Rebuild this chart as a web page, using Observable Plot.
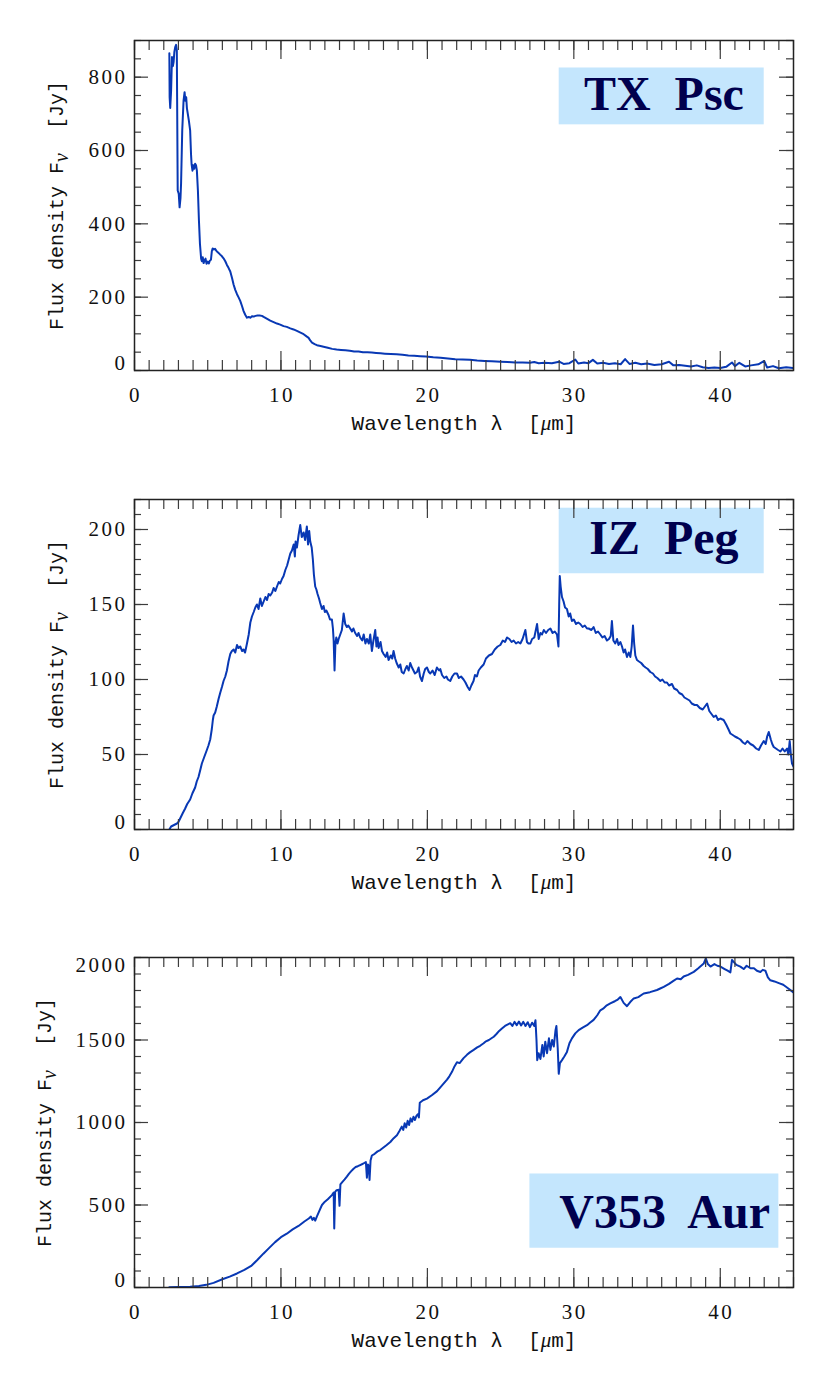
<!DOCTYPE html>
<html><head><meta charset="utf-8">
<script src="https://cdn.jsdelivr.net/npm/d3@7"></script>
<script src="https://cdn.jsdelivr.net/npm/@observablehq/plot@0.6"></script>
<style>
body{margin:0;background:#fff;}
svg{display:block;}
svg text{white-space:pre;}
</style></head><body><div id="chart"></div>
<script>
// ---------- data ----------
const txPscWave = [2.38,2.40,2.44,2.50,2.56,2.62,2.67,2.72,2.78,2.84,2.89,2.91,2.95,3.02,3.08,3.14,3.18,3.26,3.35,3.42,3.47,3.53,3.58,3.64,3.71,3.80,3.86,3.90,3.96,4.02,4.08,4.14,4.20,4.26,4.33,4.40,4.47,4.55,4.60,4.66,4.72,4.78,4.85,4.92,5.00,5.08,5.15,5.22,5.28,5.34,5.42,5.50,5.58,5.67,5.76,5.85,5.96,6.08,6.20,6.31,6.42,6.54,6.66,6.77,6.88,7.00,7.10,7.22,7.34,7.45,7.56,7.68,7.80,7.91,8.02,8.14,8.26,8.40,8.55,8.70,8.82,9.00,9.27,9.50,9.73,9.95,10.18,10.40,10.64,10.86,11.09,11.30,11.55,11.75,11.89,12.00,12.12,12.30,12.46,12.70,12.91,13.2,13.5,13.8,14.1,14.4,14.7,15.0,15.3,15.6,15.9,16.2,16.5,16.8,17.1,17.5,17.9,18.3,18.7,19.1,19.5,19.9,20.4,20.9,21.4,21.9,22.4,22.9,23.4,23.9,24.4,25.0,25.5,26.0,26.5,27.0,27.3,27.6,28.0,28.5,29.0,29.3,29.7,30.1,30.3,30.7,31.0,31.3,31.6,32.0,32.4,32.8,33.2,33.5,33.8,34.2,34.6,35.0,35.5,36.0,36.5,36.8,37.2,37.6,38.0,38.4,38.8,39.2,39.6,40.0,40.4,40.8,41.0,41.3,41.7,42.1,42.6,43.0,43.2,43.6,44.0,44.5,45.0];
const txPscFlux = [865,745,716,764,855,830,841,868,882,888,873,745,491,482,445,470,510,655,736,759,736,745,715,700,682,655,590,562,545,560,550,564,560,545,491,409,345,305,298,309,293,300,305,291,297,292,300,302,325,333,330,332,327,323,320,316,312,306,298,288,280,270,252,234,220,208,200,190,176,162,152,144,146,144,148,147,149,150,150,149,146,142,136,132,128,125,121,119,115,112,108,104,99,93,89,82,76,72,69,67,65,62,59,57,56,55,54,52,52,50,50,49,48,47,46,45,44,43,41,40,39,38,36,35,33,31,30,29,27,26,25,24,23,22,22,21,23,20,21,20,24,18,20,30,19,22,20,29,19,21,18,20,17,31,18,21,17,19,15,17,24,14,15,13,11,14,9,7,8,7,10,22,12,21,11,14,17,26,8,12,6,9,7];

const izPegWave = [2.38,2.5,2.7,2.9,3.0,3.15,3.3,3.46,3.6,3.8,3.95,4.14,4.25,4.37,4.5,4.6,4.75,4.94,5.05,5.17,5.28,5.35,5.40,5.51,5.62,5.74,5.85,5.97,6.08,6.2,6.31,6.42,6.54,6.65,6.77,6.88,7.0,7.1,7.22,7.35,7.45,7.55,7.68,7.8,7.91,8.02,8.14,8.25,8.36,8.47,8.59,8.7,8.82,8.94,9.05,9.16,9.27,9.4,9.5,9.62,9.73,9.85,9.95,10.07,10.18,10.3,10.42,10.53,10.64,10.75,10.87,10.95,11.0,11.09,11.2,11.32,11.42,11.55,11.65,11.77,11.85,11.93,12.0,12.1,12.18,12.25,12.34,12.42,12.5,12.6,12.68,12.8,12.91,13.0,13.1,13.25,13.35,13.48,13.55,13.6,13.66,13.72,13.78,13.86,13.94,14.05,14.16,14.28,14.39,14.5,14.6,14.73,14.85,14.95,15.07,15.2,15.3,15.41,15.55,15.65,15.77,15.87,16.0,16.1,16.21,16.3,16.44,16.52,16.6,16.67,16.8,16.9,17.01,17.15,17.25,17.35,17.5,17.6,17.69,17.8,17.9,18.04,18.15,18.25,18.38,18.5,18.6,18.72,18.83,18.95,19.05,19.15,19.29,19.4,19.5,19.63,19.75,19.85,19.97,20.1,20.2,20.35,20.5,20.65,20.8,20.88,21.0,21.15,21.3,21.4,21.56,21.7,21.85,22.02,22.15,22.3,22.47,22.6,22.75,22.88,23.0,23.15,23.25,23.38,23.5,23.65,23.84,24.0,24.2,24.41,24.6,24.8,24.98,25.15,25.3,25.44,25.6,25.75,25.89,26.05,26.2,26.35,26.5,26.69,26.8,26.9,27.03,27.15,27.3,27.49,27.6,27.72,27.83,27.95,28.1,28.25,28.4,28.55,28.7,28.85,28.95,29.0,29.04,29.1,29.19,29.3,29.4,29.53,29.65,29.75,29.87,30.0,30.15,30.3,30.44,30.6,30.75,30.9,31.01,31.2,31.35,31.5,31.65,31.81,31.95,32.1,32.26,32.4,32.52,32.6,32.7,32.83,32.95,33.05,33.18,33.29,33.4,33.5,33.63,33.75,33.86,33.95,34.04,34.12,34.2,34.31,34.45,34.6,34.77,34.9,35.05,35.22,35.4,35.55,35.7,35.91,36.05,36.2,36.36,36.5,36.7,36.85,37.05,37.2,37.4,37.55,37.73,37.9,38.05,38.25,38.41,38.6,38.8,38.95,39.1,39.25,39.4,39.55,39.7,39.85,40.0,40.23,40.4,40.55,40.69,40.85,41.0,41.2,41.37,41.55,41.7,41.85,42.06,42.25,42.45,42.63,42.78,42.97,43.1,43.2,43.31,43.45,43.55,43.65,43.8,43.95,44.11,44.25,44.4,44.56,44.65,44.74,44.82,44.9,45.0];
const izPegFlux = [0,2,3,4,5,8,11,14,17,20,24,28,32,35,40,44,48,53,56,60,67,73,76,78,82,87,91,95,99,102,106,112,117,119,120,118,123,121,122,119,120,118,124,130,138,142,145,148,150,147,154,149,152,155,153,157,156,158,161,159,162,165,164,167,169,173,176,180,184,186,190,182,192,188,196,203,195,198,193,202,190,199,192,188,180,170,162,160,157,154,151,147,149,145,146,143,140,140,134,126,106,124,128,124,127,130,133,144,137,135,136,134,132,134,131,129,131,128,126,130,124,127,124,130,119,125,133,122,128,121,125,119,117,115,118,113,116,114,119,114,111,108,110,105,104,107,109,106,111,108,106,104,105,108,102,99,104,107,108,105,104,106,103,108,106,107,103,101,102,100,99,102,104,104,101,102,100,98,95,93,96,99,103,102,106,108,110,114,116,117,120,122,123,126,125,128,127,125,126,124,125,124,127,133,125,124,124,127,128,137,127,131,130,133,131,133,134,131,132,130,122,150,169,162,155,152,148,147,142,144,139,140,137,138,137,135,136,134,134,133,135,131,132,130,128,129,126,127,129,139,126,124,127,123,125,122,118,120,115,118,115,122,136,124,116,113,112,111,109,108,107,105,104,102,101,99,100,98,98,96,97,94,93,91,90,88,87,86,84,83,83,81,80,82,84,79,77,75,76,73,74,73,70,67,64,63,62,61,60,58,57,59,57,56,54,53,56,59,57,62,65,60,57,55,54,53,52,54,52,54,50,59,50,44,42];

const v353AurWave = [2.38,3.0,3.8,4.4,4.9,5.4,6.0,6.5,7.0,7.5,8.0,8.4,8.8,9.2,9.6,10.0,10.4,10.8,11.2,11.6,11.9,12.05,12.15,12.25,12.34,12.45,12.6,12.8,13.0,13.2,13.48,13.6,13.64,13.7,13.8,13.94,14.0,14.06,14.2,14.35,14.5,14.65,14.8,14.96,15.1,15.25,15.41,15.6,15.8,15.87,15.94,16.0,16.05,16.12,16.21,16.4,16.6,16.78,17.0,17.2,17.47,17.7,17.92,18.1,18.25,18.35,18.45,18.55,18.65,18.75,18.85,18.95,19.05,19.15,19.25,19.35,19.42,19.48,19.7,19.97,20.3,20.66,21.0,21.34,21.5,21.68,21.85,22.02,22.2,22.47,22.7,22.9,23.16,23.4,23.6,23.84,24.0,24.2,24.4,24.53,24.7,24.9,25.09,25.3,25.5,25.66,25.8,25.95,26.1,26.25,26.4,26.55,26.7,26.85,27.0,27.15,27.3,27.38,27.45,27.5,27.6,27.72,27.85,27.94,28.05,28.17,28.3,28.4,28.52,28.63,28.75,28.81,28.9,28.97,29.05,29.19,29.35,29.53,29.7,29.87,30.1,30.33,30.6,30.9,31.1,31.35,31.6,31.81,32.0,32.25,32.49,32.8,33.0,33.18,33.4,33.63,33.85,34.09,34.4,34.77,35.2,35.68,35.9,36.14,36.5,36.8,37.05,37.3,37.5,37.8,38.19,38.5,38.87,39.01,39.15,39.33,39.6,39.8,40.01,40.3,40.5,40.69,40.8,40.9,41.1,41.37,41.6,41.8,42.06,42.3,42.5,42.74,42.9,43.08,43.25,43.42,43.7,44.0,44.3,44.6,44.97];
const v353AurFlux = [2,3,4,9,16,28,50,66,85,107,133,168,205,240,275,305,326,352,373,400,418,430,410,422,405,430,460,500,520,535,560,575,358,580,590,592,495,625,640,655,672,690,705,720,730,735,742,750,760,665,745,735,652,770,800,810,825,833,848,862,882,905,923,950,975,955,995,970,1010,985,1025,1005,1035,1015,1040,1050,1030,1120,1135,1145,1165,1190,1225,1260,1280,1307,1340,1365,1360,1390,1410,1425,1440,1455,1465,1480,1492,1500,1512,1520,1535,1555,1570,1585,1595,1602,1585,1610,1590,1612,1588,1610,1585,1608,1578,1605,1585,1620,1500,1378,1420,1385,1470,1400,1490,1420,1510,1440,1500,1460,1560,1585,1450,1295,1360,1378,1400,1428,1480,1510,1540,1560,1575,1590,1605,1622,1650,1680,1690,1710,1722,1735,1745,1760,1725,1705,1730,1752,1760,1782,1790,1803,1812,1822,1840,1858,1873,1868,1885,1895,1913,1935,1963,1995,1960,1945,1960,1950,1945,1930,1920,1910,1985,1975,1955,1945,1930,1950,1935,1935,1920,1912,1925,1920,1880,1862,1855,1845,1835,1815,1790];

// tick values / labels
const xMajorTicks = [0, 10, 20, 30, 40];
const xMinorTicks = [0,1,2,3,4,5,6,7,8,9,10,11,12,13,14,15,16,17,18,19,20,21,22,23,24,25,26,27,28,29,30,31,32,33,34,35,36,37,38,39,40,41,42,43,44,45];
const yMajorTX = [0, 200, 400, 600, 800];
const yMinorTX = [0,50,100,150,200,250,300,350,400,450,500,550,600,650,700,750,800,850,900];
const yMajorIZ = [0, 50, 100, 150, 200];
const yMinorIZ = [0,10,20,30,40,50,60,70,80,90,100,110,120,130,140,150,160,170,180,190,200,210,220];
const yMajorV = [0, 500, 1000, 1500, 2000];
const yMinorV = [0,100,200,300,400,500,600,700,800,900,1000,1100,1200,1300,1400,1500,1600,1700,1800,1900,2000];

const starNames = ["TX  Psc", "IZ  Peg", "V353  Aur"];
const xTitle = "Wavelength λ  [μm]";
const yTitle = "Flux density Fν  [Jy]";

// ---------- layout ----------
const panels = [
  {name: starNames[0], wave: txPscWave, flux: txPscFlux, yDomain: [0, 900], yMajor: yMajorTX, yMinor: yMinorTX,
   box: {x1: 29, x2: 43, y1: 670, y2: 825}, labelX: 36.15, labelY: 753,
   marginTop: 40, marginBottom: 88, yTitleDx: -78, topLabelDy: 0},
  {name: starNames[1], wave: izPegWave, flux: izPegFlux, yDomain: [0, 220], yMajor: yMajorIZ, yMinor: yMinorIZ,
   box: {x1: 29, x2: 43, y1: 170.5, y2: 214.2}, labelX: 36.15, labelY: 193.8,
   marginTop: 41, marginBottom: 87, yTitleDx: -78, topLabelDy: 0},
  {name: starNames[2], wave: v353AurWave, flux: v353AurFlux, yDomain: [0, 2000], yMajor: yMajorV, yMinor: yMinorV,
   box: {x1: 27, x2: 44, y1: 238, y2: 688}, labelX: 36.2, labelY: 456,
   marginTop: 41, marginBottom: 87, yTitleDx: -90, topLabelDy: 8}
];

const W = 830, H = 458, ML = 134, MR = 37;
const iw = W - ML - MR;
const tickColor = "#3c3c3c";
const lineColor = "#0838b4";
const numFont = "Liberation Serif";
const monoFont = "Liberation Mono";
const numStyle = {fontFamily: numFont, fontSize: 21, fill: "#111"};

function makePanel(p) {
  const ih = H - p.marginTop - p.marginBottom;
  const data = p.wave.map((w, i) => ({w, f: p.flux[i]}));
  const top = p.yMajor[p.yMajor.length - 1];
  const topAtEdge = top === p.yDomain[1];
  const inner = p.yMajor.filter(v => v !== 0 && !(topAtEdge && v === top));
  const svg = Plot.plot({
    width: W, height: H,
    marginLeft: ML, marginRight: MR, marginTop: p.marginTop, marginBottom: p.marginBottom,
    x: {domain: [0, 45], axis: null},
    y: {domain: p.yDomain, axis: null},
    style: {background: "#fff", overflow: "visible"},
    marks: [
      Plot.rect([p.box], {x1: "x1", x2: "x2", y1: "y1", y2: "y2", fill: "#c4e6fd"}),
      Plot.text([p.name], {x: p.labelX, y: p.labelY, text: d => d, fontFamily: numFont, fontWeight: "bold",
        fontSize: 48, fill: "#00004e", textAnchor: "middle", lineAnchor: "middle"}),
      Plot.line(data, {x: "w", y: "f", stroke: lineColor, strokeWidth: 2, clip: true}),
      // x ticks, bottom and top
      Plot.ruleX(xMinorTicks, {x: d => d, insetTop: ih - 10, stroke: tickColor, strokeWidth: 1.2}),
      Plot.ruleX(xMinorTicks, {x: d => d, insetBottom: ih - 10, stroke: tickColor, strokeWidth: 1.2}),
      Plot.ruleX(xMajorTicks, {x: d => d, insetTop: ih - 19, stroke: tickColor, strokeWidth: 1.2}),
      Plot.ruleX(xMajorTicks, {x: d => d, insetBottom: ih - 19, stroke: tickColor, strokeWidth: 1.2}),
      // y ticks, left and right
      Plot.ruleY(p.yMinor, {y: d => d, insetRight: iw - 7, stroke: tickColor, strokeWidth: 1.2}),
      Plot.ruleY(p.yMinor, {y: d => d, insetLeft: iw - 7, stroke: tickColor, strokeWidth: 1.2}),
      Plot.ruleY(p.yMajor, {y: d => d, insetRight: iw - 14, stroke: tickColor, strokeWidth: 1.2}),
      Plot.ruleY(p.yMajor, {y: d => d, insetLeft: iw - 14, stroke: tickColor, strokeWidth: 1.2}),
      Plot.frame({stroke: "#222", strokeWidth: 1.5}),
      // x tick labels
      Plot.text(xMajorTicks, {x: d => d, text: d => String(d), frameAnchor: "bottom", dy: 25, dx: 1, lineAnchor: "middle",
        textAnchor: "middle", ...numStyle}),
      // y tick labels
      Plot.text(inner, {y: d => d, text: d => String(d), frameAnchor: "left", dx: -7, textAnchor: "end",
        lineAnchor: "middle", ...numStyle}),
      Plot.text([0], {y: d => d, text: d => String(d), frameAnchor: "left", dx: -7, dy: -7, textAnchor: "end",
        lineAnchor: "middle", ...numStyle}),
      topAtEdge ? Plot.text([top], {y: d => d, text: d => String(d), frameAnchor: "left", dx: -7, dy: p.topLabelDy,
        textAnchor: "end", lineAnchor: "middle", ...numStyle}) : null,
      // axis titles
      Plot.text([xTitle], {text: d => d, frameAnchor: "bottom", dy: 53, lineAnchor: "middle",
        fontFamily: monoFont, fontSize: 21, fill: "#111", textAnchor: "middle"}),
      Plot.text([yTitle], {text: d => d, frameAnchor: "left", dx: p.yTitleDx, rotate: -90, lineAnchor: "middle",
        fontFamily: monoFont, fontSize: 20, fill: "#111", textAnchor: "middle"})
    ]
  });
  d3.select(svg).selectAll("text").each(function () {
    const t = d3.select(this);
    const s = this.textContent;
    if (/^\d+$/.test(s)) {
      t.style("letter-spacing", "2.5px");
    } else if (s === xTitle) {
      t.text(null);
      t.append("tspan").text("Wavelength λ  [");
      t.append("tspan").attr("font-family", numFont).attr("font-style", "italic").text("μ");
      t.append("tspan").text("m]");
    } else if (s === yTitle) {
      t.text(null);
      t.append("tspan").text("Flux density F");
      t.append("tspan").attr("font-family", numFont).attr("font-style", "italic").attr("dy", "5").text("ν");
      t.append("tspan").attr("dy", "-5").text("  [Jy]");
    }
  });
  return svg;
}

const root = document.getElementById("chart");
panels.forEach(p => root.appendChild(makePanel(p)));
</script></body></html>
